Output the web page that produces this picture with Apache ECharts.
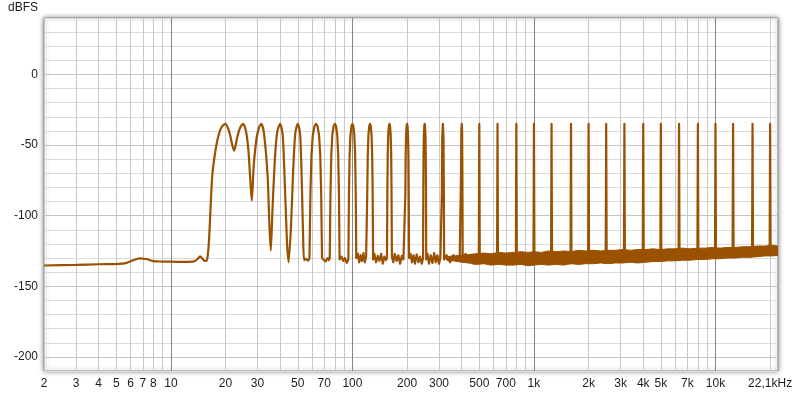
<!DOCTYPE html>
<html><head><meta charset="utf-8">
<script src="https://cdn.jsdelivr.net/npm/echarts@6/dist/echarts.min.js"></script>
<style>html,body{margin:0;padding:0;background:#fff}#c{width:800px;height:397px}</style>
</head><body><div id="c"></div>
<script>
// ---- data (frequency in Hz, level in dBFS) ----
const lobeCurve = [
  [2,-135.3],[3,-134.8],[4,-134.4],[5.2,-134.2],[5.7,-133.4],[6.2,-131.6],[6.7,-130.2],[7.3,-130.7],
  [8.0,-132.2],[9.0,-132.5],[10,-132.6],[12,-132.7],[13.4,-132.4],[14.0,-130.8],[14.5,-128.8],[14.9,-130.3],
  [15.3,-132],[15.8,-131.5],[16.2,-118.5],[16.9,-71.7],[17.66,-52.8],[18.4,-42],[19.1,-37],[20,-35],
  [21.0,-41],[21.7,-49],[22.3,-54],[23.3,-43.4],[24.1,-37.5],[25,-35],[25.9,-40],[26.7,-52.8],
  [27.3,-71.7],[27.9,-89.3],[28.6,-64.6],[29.6,-45.7],[30.6,-37.5],[31.5,-35],[32.6,-42],[34.1,-71.7],
  [34.9,-107],[35.5,-124.7],[36.3,-95],[37.4,-60],[38.5,-40.8],[40,-35],[41.3,-43],[42.6,-83],
  [43.6,-118.7],[44.5,-132.9],[45.9,-107],[47.2,-67],[48.5,-41],[50,-35],[51.5,-42],[52.6,-75],
  [53.5,-115],[54.2,-131.5],[55.5,-130.5],[57,-131.8],[58,-130.5]
];
const toneCurve = [
  [58,-130.5],[58.7,-85],[59.5,-57],[60.5,-43],[61.8,-36.5],[63,-35],[64.2,-36.5],[65.5,-43],[66.5,-57],[67.3,-85],[68,-130],
  [69.5,-129.5],[71,-132.5],[73,-130],[74.2,-131.5],
  [75,-130],[75.7,-85],[76.5,-57],[77.5,-43],[78.8,-36.5],[80,-35],[81.2,-36.5],[82.5,-43],[83.5,-57],[84.3,-85],[85,-131],
  [87,-129],[89,-132],[91,-130],[93,-133.5],
  [95,-131],[95.7,-85],[96.5,-57],[97.5,-43],[98.8,-36.5],[100,-35],[101.2,-36.5],[102.5,-43],[103.5,-57],[104.3,-85],[105,-130],
  [107,-127],[109,-133],[111,-128],[113,-132],[115,-126.5],[117,-133],[119,-129],
  [120,-130],[120.7,-85],[121.5,-57],[122.5,-43],[123.8,-36.5],[125,-35],[126.2,-36.5],[127.5,-43],[128.5,-57],[129.3,-85],[130,-131],
  [132,-127],[135,-133],[138,-128.5],[141,-132],[144,-127],[147,-134],[150,-129],[153,-131.5],
  [155,-130],[155.7,-85],[156.5,-57],[157.5,-43],[158.8,-36.5],[160,-35],[161.2,-36.5],[162.5,-43],[163.5,-57],[164.3,-85],[165,-129],
  [168,-133],[171,-127],[175,-132],[179,-128],[183,-134],[187,-128.5],[191,-131],
  [195,-130],[195.7,-85],[196.5,-57],[197.5,-43],[198.8,-36.5],[200,-35],[201.2,-36.5],[202.5,-43],[203.5,-57],[204.3,-85],[205,-130],
  [209,-127],[213,-133],[217,-128],[221,-134],[226,-127.5],[231,-133],[236,-129],[241,-134],
  [245,-130],[245.8,-85],[246.5,-57],[247.5,-43],[248.8,-36.5],[250,-35],[251.2,-36.5],[252.5,-43],[253.5,-57],[254.3,-85],[255,-131],
  [259,-127],[264,-134],[270,-128],[276,-133.5],[282,-126.5],[288,-133],[294,-128],[300,-134],[305,-130],
  [310,-131],[311,-85],[312.5,-45],[315,-35],[317.5,-45],[319,-85],[320,-131],
  [330,-128],[345,-133],[360,-128],[375,-132],[390,-129],
  [395,-130],[396.5,-70],[398,-40],[400,-35],[402,-40],[403.5,-70],[405,-130],
  [420,-127],[435,-133],[450,-128],[465,-134],[480,-127.5],
  [497,-130],[500,-35],[503,-130],[560,-131],
  [626.2,-130],[630,-35],[633.8,-130],[710,-131],
  [795.2,-130],[800,-35],[804.8,-130],[895,-130.5],
  [994,-130],[1000,-35],[1006,-130],[1120,-130],
  [1242.5,-130],[1250,-35],[1257.5,-130],[1410,-130],
  [1590.4,-130],[1600,-35],[1609.6,-130],[1790,-129.5],
  [1988,-129.5],[2000,-35],[2012,-129.5],[2240,-129.5],
  [2485,-129.5],[2500,-35],[2515,-129.5],[2810,-129],
  [3131,-129],[3150,-35],[3169,-129],[3550,-129],
  [3976,-128.5],[4000,-35],[4024,-128.5],[4470,-128.5],
  [4970,-128],[5000,-35],[5030,-128],[5620,-128],
  [6262,-128],[6300,-35],[6338,-128],[7100,-127.5],
  [7952,-127.5],[8000,-35],[8048,-127.5],[8950,-127],
  [9940,-127],[10000,-35],[10060,-127],[11200,-126.5],
  [12425,-126.5],[12500,-35],[12575,-126.5],[14100,-126],
  [15904,-125.5],[16000,-35],[16096,-125.5],[17900,-125],
  [19880,-125],[20000,-35],[20120,-125],[22100,-125]
];
// noise-floor band (lower / upper envelope)
const noiseFreq = [330,360,400,440,480,530,580,640,700,770,850,930,1000,1100,1200,1330,1460,1600,1760,1930,
  2120,2330,2560,2810,3090,3400,3740,4110,4520,4970,5460,6000,6600,7250,7970,8760,9630,10600,11600,12800,
  14100,15500,17000,18700,20500,22100];
const noiseLow = [-131.5,-132,-133,-133.5,-134.5,-134,-135,-134.5,-135,-135,-134.5,-135.5,-135,-134.5,-135,-134.5,-135,-134,-134.5,-134,
  -134,-133.5,-134,-133.5,-133.5,-133,-133.5,-133,-132.5,-132.5,-132,-132,-131.5,-131.5,-131,-131,-130.5,-130.5,-130,-130,
  -129.5,-129.5,-129,-128.5,-128.5,-128];
const noiseHigh = [-129,-128.5,-128,-127.5,-127,-126.5,-127,-126,-126.5,-126,-125.5,-126,-125.5,-126,-125,-125.5,-125,-125.5,-124.5,-125,
  -124.5,-125,-124.5,-124.5,-124,-124.5,-124,-124,-123.5,-124,-123.5,-123.5,-123,-123.5,-123,-123,-122.5,-123,-122.5,-122.5,
  -122,-122,-121.5,-121.5,-121,-121.5];

// ---- axis ticks / labels ----
const xLabelValues = [2,3,4,5,6,7,8,10,20,30,50,70,100,200,300,500,700,1000,2000,3000,4000,5000,7000,10000,20000];
const xLabelTexts  = ['2','3','4','5','6','7','8','10','20','30','50','70','100','200','300','500','700','1k','2k','3k','4k','5k','7k','10k','22,1kHz'];
const xMinorGrid = [2,3,4,5,6,7,8,9,20,30,40,50,60,70,80,90,200,300,400,500,600,700,800,900,
  2000,3000,4000,5000,6000,7000,8000,9000,20000];
const xMajorGrid = [10,100,1000,10000];
const yMinorGrid = [-210,-190,-180,-170,-160,-140,-130,-120,-110,-90,-80,-70,-60,-40,-30,-20,-10,10,20,30,40];
const yMajorValues = [-200,-150,-100,-50,0];

const FONT = '"Liberation Sans", Arial, sans-serif';
const TXT = '#1c1c1c';
const LINE = '#9a5100';

const chart = echarts.init(document.getElementById('c'), null, {renderer:'canvas', width:800, height:397});
chart.setOption({
  animation: false,
  backgroundColor: '#ffffff',
  grid: {left:44, right:22, top:18, bottom:26, show:true, borderColor:'#8f8f8f', borderWidth:1,
    backgroundColor:'#ffffff', shadowColor:'rgba(0,0,0,0.45)', shadowBlur:5, containLabel:false, outerBoundsMode:'none'},
  graphic: [{type:'text', x:38, y:8, style:{text:'dBFS', textAlign:'right', textVerticalAlign:'middle',
    font:'12px ' + FONT, fill:TXT}}],
  xAxis: [
    {type:'log', logBase:10, min:2, max:22100, axisLine:{show:false},
      axisTick:{show:false, customValues:xMinorGrid},
      splitLine:{show:true, lineStyle:{color:'#c8c8c8', width:1}},
      axisLabel:{customValues:xLabelValues, margin:7, fontSize:12, fontFamily:FONT, color:TXT, hideOverlap:false,
        formatter: function(v){ for (let i=0;i<xLabelValues.length;i++){ if (Math.abs(v-xLabelValues[i]) < xLabelValues[i]*1e-6) return xLabelTexts[i]; } return ''; }}},
    {type:'log', logBase:10, min:2, max:22100, position:'bottom', axisLine:{show:false},
      axisTick:{show:false, customValues:xMajorGrid},
      splitLine:{show:true, lineStyle:{color:'#858585', width:1}},
      axisLabel:{show:false}}
  ],
  yAxis: [
    {type:'value', min:-210, max:40, axisLine:{show:false},
      axisTick:{show:false, customValues:yMinorGrid},
      splitLine:{show:true, lineStyle:{color:'#dcdcdc', width:1}},
      axisLabel:{show:false}},
    {type:'value', min:-210, max:40, position:'left', axisLine:{show:false},
      axisTick:{show:false, customValues:yMajorValues},
      splitLine:{show:true, lineStyle:{color:'#c4c4c4', width:1}},
      axisLabel:{customValues:yMajorValues, margin:6, fontSize:12, fontFamily:FONT, color:TXT}}
  ],
  series: [
    {type:'custom', name:'noise', xAxisIndex:0, yAxisIndex:0, silent:true, clip:true,
      data: noiseFreq.map((f,i)=>[f, noiseLow[i], noiseHigh[i]]),
      encode:{x:0, y:[1,2]},
      renderItem: function(params, api){
        if (params.dataIndex !== 0) return null;
        const pts = [];
        for (let i=0;i<noiseFreq.length;i++) pts.push(api.coord([noiseFreq[i], noiseHigh[i]]));
        for (let i=noiseFreq.length-1;i>=0;i--) pts.push(api.coord([noiseFreq[i], noiseLow[i]]));
        return {type:'polygon', shape:{points:pts}, style:{fill:LINE, stroke:LINE, lineWidth:1}};
      }},
    {type:'line', name:'lobes', xAxisIndex:0, yAxisIndex:0, symbol:'none', smooth:0.25, clip:true,
      lineStyle:{color:LINE, width:2.2}, data: lobeCurve},
    {type:'line', name:'tones', xAxisIndex:0, yAxisIndex:0, symbol:'none', smooth:false, clip:true,
      lineStyle:{color:LINE, width:2.2, join:'round'}, data: toneCurve}
  ]
});
</script>
</body></html>
